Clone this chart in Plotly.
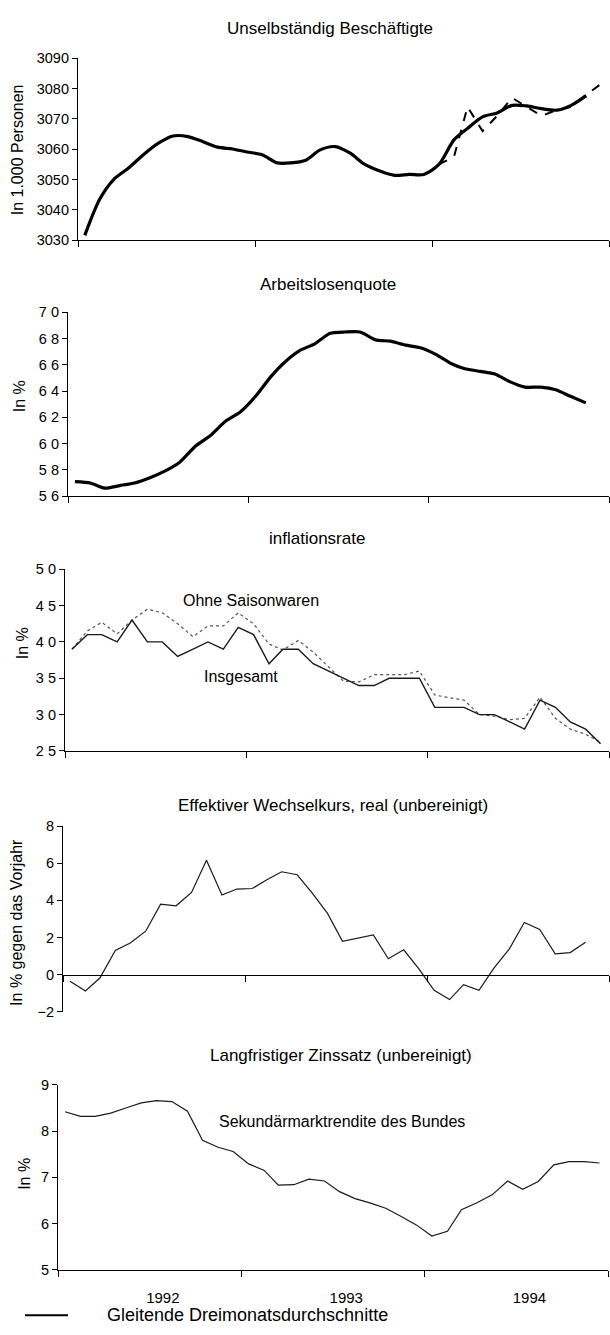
import pandas as pd
import plotly.graph_objects as go

W, H = 610, 1335
FONT = "Liberation Sans, Arial, sans-serif"

# ---------------- data (monthly, Jan 1992 - Dec 1994) ----------------
month_start = "1992-01-01"
months = pd.date_range(month_start, periods=36, freq="MS") + pd.Timedelta(days=14)

beschaeftigte = [3031.6, 3043.6, 3050.1, 3053.9, 3058.2, 3062.0, 3064.4, 3064.2, 3062.5,
                 3060.7, 3060.1, 3059.1, 3058.2, 3055.5, 3055.5, 3056.4, 3059.8, 3060.9,
                 3058.8, 3055.0, 3052.8, 3051.4, 3051.7, 3051.7, 3055.0, 3063.1, 3066.9,
                 3070.7, 3072.0, 3074.5, 3074.3, 3073.4, 3072.9, 3074.5, 3077.7]
beschaeftigte_monat = [3055.0, 3057.5, 3074.0, 3066.0, 3071.0, 3077.0, 3074.0, 3071.0,
                       3073.0, 3074.0, 3078.0, 3081.5]  # Jan - Dec 1994

alq = [5.71, 5.70, 5.66, 5.68, 5.70, 5.74, 5.79, 5.86, 5.98, 6.06, 6.17, 6.24,
       6.36, 6.51, 6.62, 6.71, 6.76, 6.84, 6.85, 6.85, 6.79, 6.78, 6.75, 6.73,
       6.68, 6.61, 6.57, 6.55, 6.53, 6.47, 6.43, 6.43, 6.41, 6.36, 6.31]

infl_insgesamt = [3.9, 4.1, 4.1, 4.0, 4.3, 4.0, 4.0, 3.8, 3.9, 4.0, 3.9, 4.2,
                  4.1, 3.7, 3.9, 3.9, 3.7, 3.6, 3.5, 3.4, 3.4, 3.5, 3.5, 3.5,
                  3.1, 3.1, 3.1, 3.0, 3.0, 2.9, 2.8, 3.2, 3.1, 2.9, 2.8, 2.6]
infl_ohne_saison = [3.9, 4.15, 4.27, 4.11, 4.3, 4.45, 4.4, 4.25, 4.07, 4.22, 4.22, 4.4,
                    4.25, 3.97, 3.89, 4.02, 3.86, 3.66, 3.46, 3.45, 3.55, 3.55, 3.55, 3.6,
                    3.27, 3.23, 3.2, 3.0, 2.98, 2.93, 2.95, 3.24, 2.95, 2.8, 2.73, 2.62]

wechselkurs = [-0.36, -0.88, -0.18, 1.30, 1.70, 2.34, 3.80, 3.71, 4.43, 6.16, 4.29, 4.61,
               4.64, 5.14, 5.54, 5.38, 4.40, 3.30, 1.80, 1.98, 2.14, 0.86, 1.34, 0.32,
               -0.84, -1.34, -0.54, -0.84, 0.35, 1.39, 2.81, 2.43, 1.12, 1.19, 1.74]

zins = [8.42, 8.32, 8.32, 8.39, 8.50, 8.61, 8.66, 8.64, 8.43, 7.80, 7.65, 7.56,
        7.29, 7.15, 6.83, 6.84, 6.96, 6.92, 6.69, 6.54, 6.44, 6.33, 6.15, 5.97,
        5.73, 5.83, 6.30, 6.45, 6.62, 6.92, 6.74, 6.91, 7.27, 7.34, 7.34, 7.31]

titles = ["Unselbständig Beschäftigte", "Arbeitslosenquote", "inflationsrate",
          "Effektiver Wechselkurs, real (unbereinigt)", "Langfristiger Zinssatz (unbereinigt)"]
ytitles = ["In 1.000 Personen", "In %", "In %", "In % gegen das Vorjahr", "In %"]
alq_ticks = [5.6, 5.8, 6.0, 6.2, 6.4, 6.6, 6.8, 7.0]
alq_ticktext = ["5 6", "5 8", "6 0", "6 2", "6 4", "6 6", "6 8", "7 0"]
infl_ticks = [2.5, 3.0, 3.5, 4.0, 4.5, 5.0]
infl_ticktext = ["2 5", "3 0", "3 5", "4 0", "4 5", "5 0"]
legend_text = "Gleitende Dreimonatsdurchschnitte"

# ---------------- layout geometry (pixels) ----------------
def fx(p):
    return p / W

def fy(p):
    return 1 - p / H

# (left, right, top, bottom) in pixels
boxes = [(78, 609, 51, 235), (68, 609, 308, 494), (65, 609, 568, 752),
         (63, 609, 828, 1016), (58, 608, 1090, 1277)]
yranges = [[3030, 3090], [5.6, 7.0], [2.5, 5.0], [-2, 8], [5, 9]]

fig = go.Figure()

fig.add_trace(go.Scatter(x=months[:len(beschaeftigte)], y=beschaeftigte, mode="lines",
                         line=dict(color="black", width=3.2, shape="spline", smoothing=0.8),
                         xaxis="x", yaxis="y", showlegend=False))
fig.add_trace(go.Scatter(x=months[24:], y=beschaeftigte_monat, mode="lines",
                         line=dict(color="black", width=2, dash="dash"),
                         xaxis="x", yaxis="y", showlegend=False))
fig.add_trace(go.Scatter(x=months[:len(alq)], y=alq, mode="lines",
                         line=dict(color="black", width=3.2, shape="spline", smoothing=0.6),
                         xaxis="x2", yaxis="y2", showlegend=False))
fig.add_trace(go.Scatter(x=months, y=infl_ohne_saison, mode="lines",
                         line=dict(color="#555555", width=1.2, dash="dot"),
                         xaxis="x3", yaxis="y3", showlegend=False))
fig.add_trace(go.Scatter(x=months, y=infl_insgesamt, mode="lines",
                         line=dict(color="#1a1a1a", width=1.4),
                         xaxis="x3", yaxis="y3", showlegend=False))
fig.add_trace(go.Scatter(x=months[:len(wechselkurs)], y=wechselkurs, mode="lines",
                         line=dict(color="#1a1a1a", width=1.2),
                         xaxis="x4", yaxis="y4", showlegend=False))
fig.add_trace(go.Scatter(x=months, y=zins, mode="lines",
                         line=dict(color="#1a1a1a", width=1.2),
                         xaxis="x5", yaxis="y5", showlegend=False))

layout = dict(width=W, height=H, margin=dict(l=0, r=0, t=0, b=0),
              paper_bgcolor="white", plot_bgcolor="white",
              font=dict(family=FONT, color="black", size=14), showlegend=False)

for i, (l, r, t, b) in enumerate(boxes):
    n = "" if i == 0 else str(i + 1)
    xdom = [fx(l), fx(r)]
    ydom = [fy(b), fy(t)]
    xa = dict(type="date", range=["1992-01-01", "1995-01-01"], tick0="1992-01-01",
              dtick="M12", ticks="outside", ticklen=6, tickcolor="black", tickwidth=1.2,
              showline=True, linecolor="black", linewidth=1.3, showgrid=False,
              zeroline=False, showticklabels=False, domain=xdom, anchor="y" + n)
    ya = dict(range=yranges[i], ticks="outside", ticklen=5, tickcolor="black",
              showline=True, linecolor="black", linewidth=1.2, showgrid=False,
              zeroline=False, domain=ydom, anchor="x" + n,
              tickfont=dict(size=14.5, family=FONT))
    if i == 0:
        ya.update(dtick=10)
    if i == 1:
        ya.update(tickvals=alq_ticks, ticktext=alq_ticktext)
    if i == 2:
        ya.update(tickvals=infl_ticks, ticktext=infl_ticktext)
    if i == 3:
        ya.update(dtick=2)
        y0 = ydom[0] + (0 - yranges[3][0]) / (yranges[3][1] - yranges[3][0]) * (ydom[1] - ydom[0])
        xa.update(anchor="free", position=y0)
    if i == 4:
        ya.update(dtick=1)
        xa.update(showticklabels=True, tickformat="%Y", ticklabelmode="period",
                  ticklabelshift=13, ticklabelstandoff=8,
                  tickfont=dict(size=15, family=FONT))
    layout["xaxis" + n] = xa
    layout["yaxis" + n] = ya

fig.update_layout(**layout)

# panel titles
title_pos = [(330, 21), (328, 280), (317, 537), (333, 807), (341, 1060)]
for txt, (x, y) in zip(titles, title_pos):
    fig.add_annotation(text=txt, x=fx(x), y=fy(y), xref="paper", yref="paper",
                       showarrow=False, xanchor="center", yanchor="middle",
                       font=dict(size=17, family=FONT))

# y axis titles
ytitle_pos = [(17, 144), (19, 393), (22, 643), (17, 926), (25, 1180)]
for txt, (x, y) in zip(ytitles, ytitle_pos):
    fig.add_annotation(text=txt, x=fx(x), y=fy(y), xref="paper", yref="paper",
                       showarrow=False, xanchor="center", yanchor="middle",
                       textangle=-90, font=dict(size=16, family=FONT))

# series labels
fig.add_annotation(text="Ohne Saisonwaren", x=fx(251), y=fy(600), xref="paper", yref="paper",
                   showarrow=False, font=dict(size=16, family=FONT))
fig.add_annotation(text="Insgesamt", x=fx(202), y=fy(677), xref="paper", yref="paper",
                   showarrow=False, font=dict(size=16, family=FONT))
fig.add_annotation(text="Sekundärmarktrendite des Bundes", x=fx(467), y=fy(1138),
                   xref="paper", yref="paper", showarrow=False,
                   font=dict(size=16, family=FONT))

# legend
fig.add_shape(type="line", xref="paper", yref="paper", x0=fx(25), x1=fx(68),
              y0=fy(1323), y1=fy(1323), line=dict(color="black", width=2))
fig.add_annotation(text=legend_text, x=fx(105), y=fy(1323), xref="paper", yref="paper",
                   showarrow=False, xanchor="left", yanchor="middle",
                   font=dict(size=18, family=FONT))

fig.write_html("out.html", config={"displayModeBar": False},
               post_script="document.body.style.margin='0';document.body.style.overflow='hidden';")
